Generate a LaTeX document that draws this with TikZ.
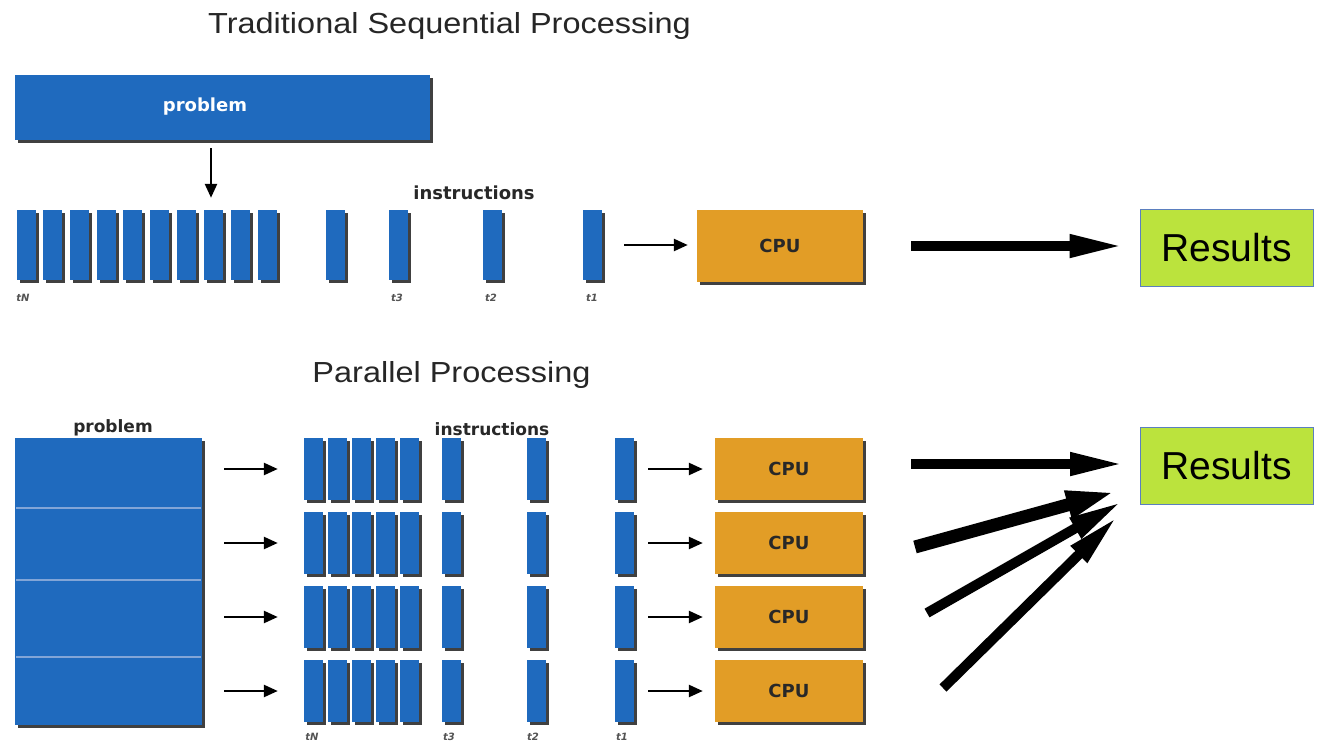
\documentclass[tikz,border=0pt]{standalone}
\usepackage{fontspec}
\setmainfont{Liberation Sans}
\newfontfamily\titlefont[FakeStretch=1.12]{Liberation Sans}
\newfontfamily\labfont{DejaVu Sans}
\usetikzlibrary{arrows.meta,shadows}
\definecolor{barblue}{RGB}{31,106,190}
\definecolor{cpuorange}{RGB}{226,157,38}
\definecolor{resgreen}{RGB}{187,227,61}
\definecolor{resedge}{RGB}{91,127,191}
\definecolor{divline}{RGB}{130,165,215}
\definecolor{labgray}{RGB}{40,40,40}
\tikzset{
  shadowed/.style={drop shadow={shadow xshift=3pt,shadow yshift=-3pt,fill=black,opacity=.75}},
  probbox/.style={rectangle, fill=barblue, shadowed, inner sep=0pt},
  instrbar/.style={rectangle, fill=barblue, shadowed, minimum width=19, minimum height=#1, inner sep=0pt},
  cpubox/.style={rectangle, fill=cpuorange, shadowed, inner sep=0pt, minimum width=#1,
     font=\labfont\bfseries\fontsize{18}{20}\selectfont, text=labgray},
  resbox/.style={rectangle, fill=resgreen, draw=resedge, line width=1pt, minimum width=173,
     minimum height=77, inner sep=0pt, font=\fontsize{39}{42}\selectfont},
  boldlab/.style={font=\labfont\bfseries\fontsize{#1}{#1}\selectfont, text=labgray, inner sep=0pt},
  tlab/.style={font=\labfont\bfseries\itshape\fontsize{10}{10}\selectfont, text=labgray!80, inner sep=0pt},
  title/.style={font=\titlefont\fontsize{29}{32}\selectfont, text=black!85, inner sep=0pt, anchor=base},
  sarrow/.style={line width=2.5pt, -{Triangle[length=14pt,width=12pt]}},
  bigarrow/.style={line width=#1, -{Triangle[length=55pt,width=21pt]}},
}
\begin{document}
\begin{tikzpicture}[x=1pt,y=-1pt]
\fill[white] (0,0) rectangle (1334,752);
\useasboundingbox (0,0) rectangle (1334,752);

% ---------- Traditional sequential ----------
\node[title] (title1) at (449.5,34) {Traditional Sequential Processing};
\node[probbox, minimum width=415, minimum height=65] (ptop) at (222.5,107.5) {};
\node[boldlab=18, text=white] (ptoplab) at (205,107) {problem};
\foreach \i/\x in {1/17,2/43,3/70,4/97,5/123,6/150,7/177,8/204,9/231,10/258,11/326,12/389,13/483,14/583}
  \node[instrbar=70] (t-\i) at (\x+9.5,245) {};
\node[boldlab=18] (instr1) at (474,193) {instructions};
\node[tlab] (ltN) at (23,298) {tN};
\node[tlab] (lt3) at (397,298) {t3};
\node[tlab] (lt2) at (491,298) {t2};
\node[tlab] (lt1) at (592,298) {t1};
\node[cpubox=166, minimum height=72] (cpu0) at (780,246) {CPU};
\node[resbox] (res1) at (1226.5,247.5) {Results};

\draw[sarrow, shorten <=8pt, shorten >=12pt] ([xshift=-2.5]t-8.north |- ptop.south) -- ([xshift=-2.5]t-8.north);
\draw[sarrow, shorten <=22pt, shorten >=9pt] (t-14.east) -- (t-14.east -| cpu0.west);
\draw[bigarrow=10pt, shorten <=48pt, shorten >=15pt] (cpu0.east) -- (cpu0.east -| res1.west);

% ---------- Parallel ----------
\node[title] (title2) at (451.5,382) {Parallel Processing};
\node[boldlab=17] (plab) at (113,428) {problem};
\node[probbox, minimum width=187, minimum height=287] (pbot) at (108.5,581.5) {};
\foreach \yy in {508,580,657}
  \draw[divline, line width=1.5pt] (16,\yy) -- (201,\yy);
\node[boldlab=17] (instr2) at (492,429) {instructions};

\foreach \r/\y in {1/469,2/543,3/617,4/691} {
  \foreach \i/\x in {1/304,2/328,3/352,4/376,5/400,6/442,7/527,8/615}
    \node[instrbar=62] (b\r-\i) at (\x+9.5,\y) {};
  \node[cpubox=148, minimum height=62] (cpu\r) at (789,\y) {CPU};
  \draw[sarrow, shorten <=22pt, shorten >=26pt] (b\r-1.west -| pbot.east) -- (b\r-1.west);
  \draw[sarrow, shorten <=14pt, shorten >=12pt] (b\r-8.east) -- (cpu\r.west);
}
\node[tlab] (btN) at (312,737) {tN};
\node[tlab] (bt3) at (449,737) {t3};
\node[tlab] (bt2) at (533,737) {t2};
\node[tlab] (bt1) at (622,737) {t1};

\node[resbox] (res2) at (1226.5,465.5) {Results};

\coordinate (s1) at (911,464);  \coordinate (e1) at (1125,464);
\coordinate (s2) at (915,547);  \coordinate (e2) at (1118,491);
\coordinate (s3) at (927,613);  \coordinate (e3) at (1123,501);
\coordinate (s4) at (943,688);  \coordinate (e4) at (1118,516);
\draw[bigarrow=10pt] (s1) -- (e1);
\draw[line width=13pt, -{Triangle[length=52pt,width=25pt]}] (s2) -- (e2);
\draw[bigarrow=10pt] (s3) -- (e3);
\draw[bigarrow=10pt] (s4) -- (e4);
\end{tikzpicture}
\end{document}
